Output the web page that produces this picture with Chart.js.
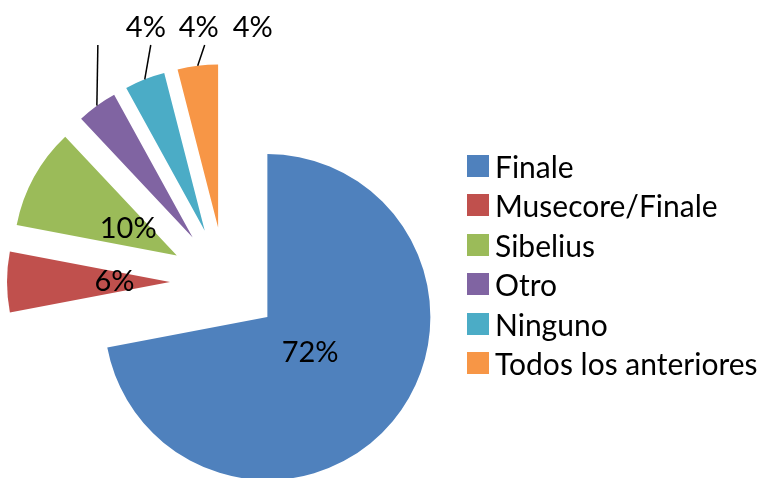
<!DOCTYPE html>
<html lang="es">
<head>
    <meta charset="UTF-8">
    <meta name="viewport" content="width=device-width, initial-scale=1.0">
    <title>Programa de notación</title>
    <script src="https://cdn.jsdelivr.net/npm/chart.js"></script>
    <style>
        html, body {
            margin: 0;
            padding: 0;
            background: #fff;
        }
        body {
            width: 761px;
            height: 478px;
            position: relative;
            overflow: hidden;
            font-family: Lato, 'Open Sans', sans-serif;
        }
        #wrap {
            position: absolute;
            left: 0;
            top: 0;
            width: 761px;
            height: 478px;
        }
        #legend {
            position: absolute;
            left: 467px;
            top: 146px;
            margin: 0;
            padding: 0;
            list-style: none;
        }
        #legend li {
            display: flex;
            align-items: center;
            height: 39.5px;
            font-size: 30px;
            color: #000;
            white-space: nowrap;
        }
        #legend .box {
            width: 22px;
            height: 22px;
            margin-right: 6px;
        }
    </style>
</head>
<body>
    <div id="wrap"><canvas id="pieChart"></canvas></div>
    <ul id="legend"></ul>
    <script>
        const labels = ['Finale', 'Musecore/Finale', 'Sibelius', 'Otro', 'Ninguno', 'Todos los anteriores'];
        const values = [72, 6, 10, 4, 4, 4];
        const colors = ['#4F81BD', '#C0504D', '#9BBB59', '#8064A2', '#4BACC6', '#F79646'];
        // which slices get their label outside with a leader line
        const outside = [false, false, false, true, true, true];

        const EXPLODE = 55;
        const lean = [0, 0, 0, 1, 6, 7];

        const explodePlugin = {
            id: 'explode',
            afterDatasetsUpdate(chart) {
                chart.getDatasetMeta(0).data.forEach(arc => {
                    const mid = (arc.startAngle + arc.endAngle) / 2;
                    arc.x += Math.cos(mid) * EXPLODE;
                    arc.y += Math.sin(mid) * EXPLODE;
                });
            }
        };

        const labelPlugin = {
            id: 'pctLabels',
            afterDatasetsDraw(chart) {
                const ctx = chart.ctx;
                const total = values.reduce((a, b) => a + b, 0);
                ctx.save();
                ctx.font = '29px Lato';
                ctx.fillStyle = '#000';
                ctx.strokeStyle = '#000';
                ctx.lineWidth = 1.5;
                ctx.textAlign = 'center';
                ctx.textBaseline = 'middle';
                chart.getDatasetMeta(0).data.forEach((arc, i) => {
                    const mid = (arc.startAngle + arc.endAngle) / 2;
                    const txt = Math.round(values[i] / total * 100) + '%';
                    if (!outside[i]) {
                        const d = arc.outerRadius * 0.34;
                        ctx.fillText(txt, arc.x + Math.cos(mid) * d, arc.y + Math.sin(mid) * d);
                    } else {
                        const px = arc.x + Math.cos(mid) * arc.outerRadius;
                        const py = arc.y + Math.sin(mid) * arc.outerRadius;
                        const ex = px + lean[i];
                        ctx.beginPath();
                        ctx.moveTo(px, py);
                        ctx.lineTo(ex, 45);
                        ctx.stroke();
                        ctx.fillText(txt, ex + 48, 28);
                    }
                });
                ctx.restore();
            }
        };

        new Chart(document.getElementById('pieChart'), {
            type: 'pie',
            data: {
                labels: labels,
                datasets: [{
                    data: values,
                    backgroundColor: colors,
                    borderWidth: 0,
                    clip: false
                }]
            },
            options: {
                responsive: true,
                maintainAspectRatio: false,
                animation: false,
                radius: 163,
                layout: {
                    padding: { left: 0, right: 311, top: 86, bottom: 0 }
                },
                plugins: {
                    legend: { display: false },
                    tooltip: { enabled: false }
                }
            },
            plugins: [explodePlugin, labelPlugin]
        });

        const legend = document.getElementById('legend');
        labels.forEach((name, i) => {
            const li = document.createElement('li');
            const box = document.createElement('span');
            box.className = 'box';
            box.style.background = colors[i];
            li.appendChild(box);
            li.appendChild(document.createTextNode(name));
            legend.appendChild(li);
        });
    </script>
</body>
</html>
